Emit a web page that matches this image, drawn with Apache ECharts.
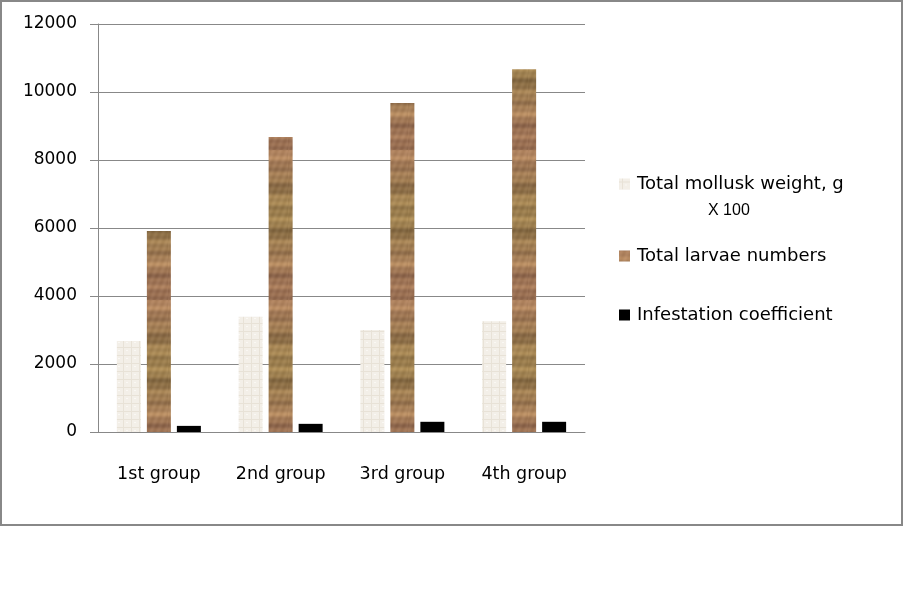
<!DOCTYPE html>
<html>
<head>
<meta charset="utf-8">
<script src="https://cdn.jsdelivr.net/npm/echarts@6/dist/echarts.min.js"></script>
<style>
  html, body { margin: 0; padding: 0; background: #fff; }
  #chart { width: 903px; height: 614px; }
</style>
</head>
<body>
<div id="chart"></div>
<script>
// data
const groups = ['1st group', '2nd group', '3rd group', '4th group']
const molluskWeight = [2680, 3390, 3000, 3260]   // g x 100
const larvaeNumbers = [5910, 8680, 9680, 10670]
const infestation = [180, 240, 300, 300]
const yTicks = { min: 0, max: 12000, interval: 2000 }

// textures for the first two series (plain canvas patterns)
function woodPattern() {
  const c = document.createElement('canvas')
  c.width = 24
  c.height = 150
  const ctx = c.getContext('2d')
  for (let y = 0; y < c.height; y++) {
    // a few stacked waves give the grain bands
    const t = Math.sin(y * 0.29) * 0.45 + Math.sin(y * 0.83 + 1.3) * 0.3 + Math.sin(y * 0.126 + 0.4) * 0.3
    const p = Math.sin(y * 0.042 + 2.0)   // slight purple drift
    const k = (t + 1.05) / 2.1
    const r = 128 + k * 60 + p * 4
    const g = 96 + k * 52 - p * 3
    const b = 66 + k * 34 + p * 5
    for (let x = 0; x < c.width; x++) {
      const d = Math.sin(x * 0.9 + y * 0.35) * 5
      ctx.fillStyle = 'rgb(' + Math.round(r + d) + ',' + Math.round(g + d) + ',' + Math.round(b + d) + ')'
      ctx.fillRect(x, y, 1, 1)
    }
  }
  return c
}

function linenPattern() {
  const c = document.createElement('canvas')
  c.width = 8
  c.height = 8
  const ctx = c.getContext('2d')
  ctx.fillStyle = '#f3efe8'
  ctx.fillRect(0, 0, 8, 8)
  ctx.fillStyle = '#e8e2d7'
  ctx.fillRect(0, 3, 8, 1)
  ctx.fillRect(3, 0, 1, 8)
  ctx.fillStyle = '#faf8f4'
  ctx.fillRect(6, 6, 2, 1)
  return c
}

const wood = { image: woodPattern(), repeat: 'repeat' }
const linen = { image: linenPattern(), repeat: 'repeat' }

const names = ['Total mollusk weight, g', 'Total larvae numbers', 'Infestation coefficient']
const font = 'DejaVu Sans'

const legendBase = {
  orient: 'vertical',
  left: 619,
  padding: 0,
  icon: 'rect',
  itemWidth: 11,
  itemHeight: 11,
  selectedMode: false,
  textStyle: { fontFamily: font, fontSize: 18, color: '#000', padding: [0, 0, 0, 2] }
}

const myChart = echarts.init(document.getElementById('chart'))
const option = {
  animation: false,
  backgroundColor: '#fff',
  grid: { left: 98, top: 24, width: 487, height: 408 },
  legend: [
    Object.assign({}, legendBase, { top: 175, data: [names[0]] }),
    Object.assign({}, legendBase, { top: 247, data: [names[1]] }),
    Object.assign({}, legendBase, { top: 306, data: [names[2]] })
  ],
  xAxis: {
    type: 'category',
    data: groups,
    axisLine: { lineStyle: { color: '#888', width: 1 } },
    axisTick: { length: 6, lineStyle: { color: '#888' } },
    axisLabel: { margin: 33, fontFamily: font, fontSize: 17.5, color: '#000' }
  },
  yAxis: {
    type: 'value',
    min: yTicks.min,
    max: yTicks.max,
    interval: yTicks.interval,
    axisLine: { show: true, lineStyle: { color: '#888', width: 1 } },
    axisTick: { show: true, length: 8, lineStyle: { color: '#888' } },
    splitLine: { lineStyle: { color: '#888', width: 1 } },
    axisLabel: {
      margin: 21, fontFamily: font, fontSize: 17, color: '#000',
      formatter: v => String(v)
    }
  },
  series: [
    { name: names[0], type: 'bar', data: molluskWeight, barWidth: 24, barGap: '25%', itemStyle: { color: linen } },
    { name: names[1], type: 'bar', data: larvaeNumbers, barWidth: 24, barGap: '25%', itemStyle: { color: wood } },
    { name: names[2], type: 'bar', data: infestation, barWidth: 24, barGap: '25%', itemStyle: { color: '#000' } }
  ],
  graphic: [
    {
      type: 'rect',
      shape: { x: 1, y: 1, width: 901, height: 524 },
      style: { fill: 'none', stroke: '#888', lineWidth: 2 },
      silent: true
    },
    {
      type: 'text',
      left: 708,
      top: 203,
      style: { text: 'X 100', font: '16px "Liberation Sans"', fill: '#000' }
    }
  ]
}
myChart.setOption(option)
</script>
</body>
</html>
